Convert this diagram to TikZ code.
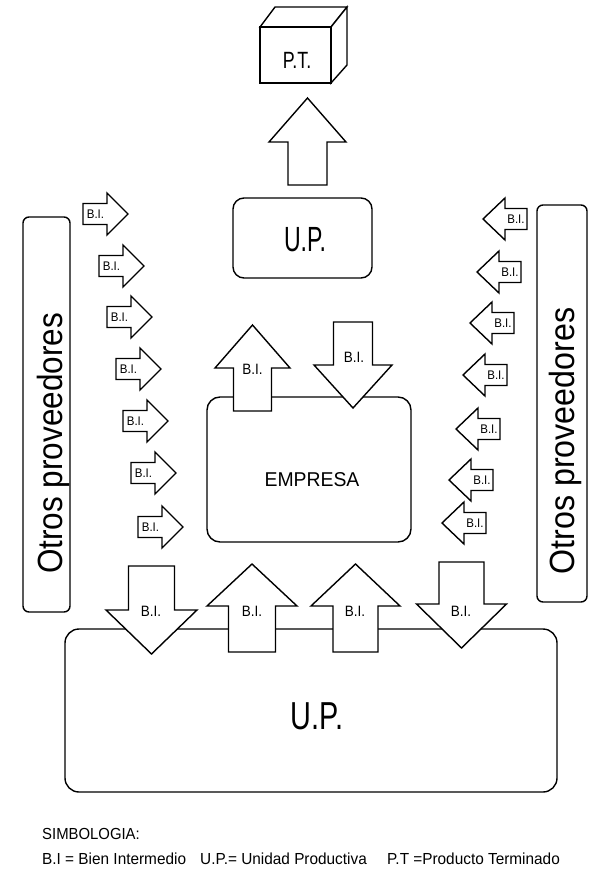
\documentclass[tikz,border=0pt]{standalone}
\usepackage{fontspec}
\setmainfont{Liberation Sans}
\usetikzlibrary{shapes.geometric}
\tikzset{
  rbox/.style={draw, line width=1.4pt, rounded corners=11pt, inner sep=0pt},
  sbox/.style={draw, line width=1.4pt, rounded corners=6pt, inner sep=0pt},
  blk/.style={draw, fill=white, line width=1.4pt, line join=miter},
  smlbl/.style={inner sep=0pt, font=\fontsize{12.5}{13}\selectfont},
  biglbl/.style={inner sep=0pt, font=\fontsize{15}{16}\selectfont},
  legend/.style={inner sep=0pt, anchor=base west, font=\fontsize{16}{18}\selectfont}
}
% right-pointing small arrow: tail x, centre y, label name
\newcommand{\myArrR}[3]{%
  \draw[blk] (#1,#2-10.5) -- (#1+24,#2-10.5) -- (#1+24,#2-21) -- (#1+45,#2)
    -- (#1+24,#2+21) -- (#1+24,#2+10.5) -- (#1,#2+10.5) -- cycle;
  \node[smlbl] (#3) at (#1+12.5,#2) {\scalebox{0.92}[1]{B.I.}};}
% left-pointing small arrow: tip x, centre y, label name
\newcommand{\myArrL}[3]{%
  \draw[blk] (#1,#2) -- (#1+22,#2-21) -- (#1+22,#2-10.5) -- (#1+44,#2-10.5)
    -- (#1+44,#2+10.5) -- (#1+22,#2+10.5) -- (#1+22,#2+21) -- cycle;
  \node[smlbl] (#3) at (#1+33,#2) {\scalebox{0.92}[1]{B.I.}};}
% big vertical arrow: centre x, tip y, head-base y, end y, head half width, shaft half width
\newcommand{\myArrV}[6]{%
  \draw[blk] (#1,#2) -- (#1+#5,#3) -- (#1+#6,#3) -- (#1+#6,#4) -- (#1-#6,#4)
    -- (#1-#6,#3) -- (#1-#5,#3) -- cycle;}
\begin{document}
\begin{tikzpicture}[x=1pt,y=-1pt]
\useasboundingbox (0,0) rectangle (598,880);

% P.T. cube
\draw[blk] (260,27) -- (275,7) -- (347,7) -- (331,27) -- cycle;
\draw[blk] (331,27) -- (347,7) -- (347,65) -- (331,83) -- cycle;
\node[draw, fill=white, line width=1.4pt, minimum width=71pt, minimum height=56pt, inner sep=0pt] (pt) at (295.5,55) {};
\node[inner sep=0pt, font=\fontsize{23.5}{25}\selectfont] (ptlbl) at (297,60) {\scalebox{0.76}[1]{P.T.}};

% boxes
\node[rbox, minimum width=139pt, minimum height=80pt] (uptop) at (302.5,238) {};
\node[inner sep=0pt, font=\fontsize{35}{36}\selectfont] (uptoplbl) at (305,239.5) {\scalebox{0.66}[1]{U.P.}};
\node[rbox, rounded corners=13pt, minimum width=204pt, minimum height=145pt] (emp) at (309,469.5) {};
\node[inner sep=0pt, font=\fontsize{20}{22}\selectfont] (emplbl) at (312,480) {\scalebox{0.97}[1]{EMPRESA}};
\node[rbox, rounded corners=14pt, minimum width=492pt, minimum height=163pt] (upbot) at (311,710.5) {};
\node[inner sep=0pt, font=\fontsize{39}{40}\selectfont] (upbotlbl) at (317,716) {\scalebox{0.74}[1]{U.P.}};
\node[sbox, minimum width=47pt, minimum height=395pt] (provL) at (46.5,414.5) {};
\node[inner sep=0pt, anchor=base, rotate=90, font=\fontsize{35}{36}\selectfont] (provLlbl) at (62,443.5) {\scalebox{0.9}[1]{Otros proveedores}};
\node[sbox, minimum width=50pt, minimum height=397pt] (provR) at (562,403.5) {};
\node[inner sep=0pt, anchor=base, rotate=90, font=\fontsize{35}{36}\selectfont] (provRlbl) at (574,441) {\scalebox{0.92}[1]{Otros proveedores}};

% arrow to P.T.
\myArrV{307.5}{98}{142}{185}{38.5}{19.5}

% arrows around EMPRESA
\myArrV{252.5}{325}{368}{411}{37.5}{19}
\node[biglbl] (biEu) at (252.5,369) {\scalebox{0.9}[1]{B.I.}};
\myArrV{353}{408}{365}{322}{39}{19.5}
\node[biglbl] (biEd) at (354,357) {\scalebox{0.9}[1]{B.I.}};

% arrows on bottom U.P.
\myArrV{151.5}{654}{610}{566}{45.5}{23}
\node[biglbl] (biB1) at (151,611) {\scalebox{0.9}[1]{B.I.}};
\myArrV{252}{564}{606}{652}{45}{23.5}
\node[biglbl] (biB2) at (252,611) {\scalebox{0.9}[1]{B.I.}};
\myArrV{355.5}{564}{606}{652}{44.5}{22.5}
\node[biglbl] (biB3) at (355,611) {\scalebox{0.9}[1]{B.I.}};
\myArrV{461.5}{648}{604}{562}{45}{22.5}
\node[biglbl] (biB4) at (461,611) {\scalebox{0.9}[1]{B.I.}};

% left column of arrows
\myArrR{83}{214}{biL1}
\myArrR{99}{266}{biL2}
\myArrR{107}{317}{biL3}
\myArrR{116}{369}{biL4}
\myArrR{123}{421}{biL5}
\myArrR{131}{473}{biL6}
\myArrR{138}{527}{biL7}

% right column of arrows
\myArrL{483}{219}{biR1}
\myArrL{477}{272}{biR2}
\myArrL{470}{323}{biR3}
\myArrL{463}{375}{biR4}
\myArrL{456}{429}{biR5}
\myArrL{449}{480}{biR6}
\myArrL{442}{523}{biR7}

% legend
\node[legend] (simb) at (42,839) {\scalebox{0.93}[1]{SIMBOLOGIA:}};
\node[legend] (leg1) at (42,864) {\scalebox{0.96}[1]{B.I = Bien Intermedio}};
\node[legend] (leg2) at (200,864) {\scalebox{0.96}[1]{U.P.= Unidad Productiva}};
\node[legend] (leg3) at (387,864) {\scalebox{0.96}[1]{P.T =Producto Terminado}};
\end{tikzpicture}
\end{document}
